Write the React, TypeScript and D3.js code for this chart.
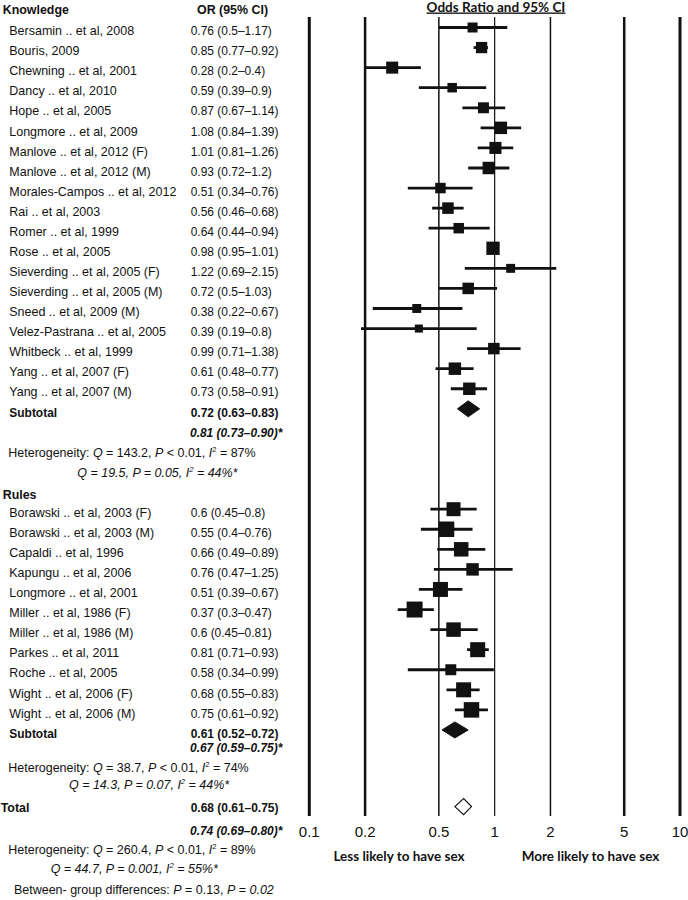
import * as d3 from "d3";
import React from "react";

// ---- data ----
const knowledgeStudies = [
  "Bersamin .. et al, 2008",
  "Bouris, 2009",
  "Chewning .. et al, 2001",
  "Dancy .. et al, 2010",
  "Hope .. et al, 2005",
  "Longmore .. et al, 2009",
  "Manlove .. et al, 2012 (F)",
  "Manlove .. et al, 2012 (M)",
  "Morales-Campos .. et al, 2012",
  "Rai .. et al, 2003",
  "Romer .. et al, 1999",
  "Rose .. et al, 2005",
  "Sieverding .. et al, 2005 (F)",
  "Sieverding .. et al, 2005 (M)",
  "Sneed .. et al, 2009 (M)",
  "Velez-Pastrana .. et al, 2005",
  "Whitbeck .. et al, 1999",
  "Yang .. et al, 2007 (F)",
  "Yang .. et al, 2007 (M)",
];
const knowledgeOR = [0.76, 0.85, 0.28, 0.59, 0.87, 1.08, 1.01, 0.93, 0.51, 0.56, 0.64, 0.98, 1.22, 0.72, 0.38, 0.39, 0.99, 0.61, 0.73];
const knowledgeLow = [0.5, 0.77, 0.2, 0.39, 0.67, 0.84, 0.81, 0.72, 0.34, 0.46, 0.44, 0.95, 0.69, 0.5, 0.22, 0.19, 0.71, 0.48, 0.58];
const knowledgeHigh = [1.17, 0.92, 0.4, 0.9, 1.14, 1.39, 1.26, 1.2, 0.76, 0.68, 0.94, 1.01, 2.15, 1.03, 0.67, 0.8, 1.38, 0.77, 0.91];
const knowledgeWeights = [4.0, 5.1, 5.8, 3.6, 4.8, 6.2, 5.8, 6.2, 4.4, 5.3, 4.4, 7.1, 3.2, 5.3, 3.2, 2.6, 5.3, 6.2, 6.2];

const rulesStudies = [
  "Borawski .. et al, 2003 (F)",
  "Borawski .. et al, 2003 (M)",
  "Capaldi .. et al, 1996",
  "Kapungu .. et al, 2006",
  "Longmore .. et al, 2001",
  "Miller .. et al, 1986 (F)",
  "Miller .. et al, 1986 (M)",
  "Parkes .. et al, 2011",
  "Roche .. et al, 2005",
  "Wight .. et al, 2006 (F)",
  "Wight .. et al, 2006 (M)",
];
const rulesOR = [0.6, 0.55, 0.66, 0.76, 0.51, 0.37, 0.6, 0.81, 0.58, 0.68, 0.75];
const rulesLow = [0.45, 0.4, 0.49, 0.47, 0.39, 0.3, 0.45, 0.71, 0.34, 0.55, 0.61];
const rulesHigh = [0.8, 0.76, 0.89, 1.25, 0.67, 0.47, 0.81, 0.93, 0.99, 0.83, 0.92];
const rulesWeights = [7.8, 9.6, 8.4, 6.2, 9.0, 10.2, 8.4, 9.0, 4.8, 9.0, 9.6];

// pooled estimates: [OR, low, high]
const knowledgeFixed = [0.72, 0.63, 0.83];
const knowledgeRandom = [0.81, 0.73, 0.9];
const rulesFixed = [0.61, 0.52, 0.72];
const rulesRandom = [0.67, 0.59, 0.75];
const totalFixed = [0.68, 0.61, 0.75];
const totalRandom = [0.74, 0.69, 0.8];

// heterogeneity: knowledge, rules, total
const hetQ = ["143.2", "38.7", "260.4"];
const hetP = ["< 0.01", "< 0.01", "< 0.01"];
const hetI2 = ["87%", "74%", "89%"];
const hetQStar = ["19.5", "14.3", "44.7"];
const hetPStar = ["= 0.05", "= 0.07", "= 0.001"];
const hetI2Star = ["44%", "44%", "55%"];
const betweenP = ["0.13", "0.02"];

const ticks = [0.1, 0.2, 0.5, 1, 2, 5, 10];
const tickLabels = ["0.1", "0.2", "0.5", "1", "2", "5", "10"];

// ---- layout ----
const W = 688;
const H = 900;
const x = d3.scaleLog().domain([0.1, 10]).range([309.3, 680]);
const rowY = d3.scaleLinear().domain([0, 1]).range([27.5, 47.57]);
const side = d3.scaleSqrt().domain([0, 1]).range([0, 5]);
const fmt2 = d3.format(".2f");
const TXT = 7.7; // baseline offset of row text below the marker centre
const FONT = "'Liberation Sans', Arial, sans-serif";
const INK = "#111";

const orText = (o: number, l: number, h: number) => `${o} (${l}\u2013${h})`;
const pooledText = (v: number[]) => `${fmt2(v[0])} (${fmt2(v[1])}\u2013${fmt2(v[2])})`;

function T({
  x: tx,
  y,
  bold,
  italic,
  size = 13,
  sx = 0.92,
  children,
}: {
  x: number;
  y: number;
  bold?: boolean;
  italic?: boolean;
  size?: number;
  sx?: number;
  children: React.ReactNode;
}) {
  return (
    <text
      transform={`translate(${tx},${y}) scale(${sx},1)`}
      fontFamily={FONT}
      fontSize={size}
      fontWeight={bold ? "bold" : "normal"}
      fontStyle={italic ? "italic" : "normal"}
      fill={INK}
      style={{ whiteSpace: "pre" }}
    >
      {children}
    </text>
  );
}

function HetLines({ i, y1, y2, x2 }: { i: number; y1: number; y2: number; x2: number }) {
  return (
    <g>
      <T x={8.3} y={y1} sx={0.96}>
        {"Heterogeneity: "}
        <tspan fontStyle="italic">Q</tspan>
        {` = ${hetQ[i]}, `}
        <tspan fontStyle="italic">P</tspan>
        {` ${hetP[i]}, `}
        <tspan fontStyle="italic">I</tspan>
        <tspan fontSize={8} dy={-5}>2</tspan>
        <tspan dy={5}>{` = ${hetI2[i]}`}</tspan>
      </T>
      <T x={x2} y={y2} italic sx={0.96}>
        {`Q = ${hetQStar[i]}, P ${hetPStar[i]}, I`}
        <tspan fontSize={8} dy={-5}>2</tspan>
        <tspan dy={5}>{` = ${hetI2Star[i]}*`}</tspan>
      </T>
    </g>
  );
}

function Study({ row, name, o, l, h, w }: { row: number; name: string; o: number; l: number; h: number; w: number }) {
  const cy = rowY(row);
  const s = side(w);
  return (
    <g>
      <T x={9.3} y={cy + TXT} sx={0.96}>{name}</T>
      <T x={190.7} y={cy + TXT}>{orText(o, l, h)}</T>
      <line x1={x(l)} x2={x(h)} y1={cy} y2={cy} stroke={INK} strokeWidth={2.8} />
      <rect x={x(o) - s / 2} y={cy - s / 2} width={s} height={s} fill={INK} />
    </g>
  );
}

function Diamond({ v, cy, hollow }: { v: number[]; cy: number; hollow?: boolean }) {
  const hh = 8;
  const path = d3.path();
  path.moveTo(x(v[1]), cy);
  path.lineTo(x(v[0]), cy - hh);
  path.lineTo(x(v[2]), cy);
  path.lineTo(x(v[0]), cy + hh);
  path.closePath();
  return (
    <path
      d={path.toString()}
      fill={hollow ? "#fff" : INK}
      stroke={INK}
      strokeWidth={hollow ? 1.2 : 1}
    />
  );
}

export default function App() {
  const tickWidths = [3, 2.5, 1.5, 1.2, 1.5, 2.5, 3];
  const rulesStart = 24;
  const kSub = knowledgeStudies.length; // 19
  const rSub = rulesStart + rulesStudies.length; // 35
  const totalRow = 38.82;
  const labelFont = "Lato, 'Open Sans', sans-serif";

  return (
    <svg
      width={W}
      height={H}
      style={{ position: "absolute", left: 0, top: 0, background: "#fff" }}
    >
      <rect width={W} height={H} fill="#fff" />

      {/* reference lines at each tick */}
      {ticks.map((t, i) => (
        <line key={t} x1={x(t)} x2={x(t)} y1={17} y2={816} stroke={INK} strokeWidth={tickWidths[i]} />
      ))}
      {ticks.map((t, i) => (
        <text key={"l" + t} x={x(t)} y={836.5} textAnchor="middle" fontFamily={FONT} fontSize={15} fill={INK}>
          {tickLabels[i]}
        </text>
      ))}

      {/* title + direction labels */}
      <text x={496} y={11.5} textAnchor="middle" fontFamily={labelFont} fontWeight="bold" fontSize={13.5} fill={INK} textDecoration="underline">
        Odds Ratio and 95% CI
      </text>
      <text x={399} y={860.5} textAnchor="middle" fontFamily={labelFont} fontWeight="bold" fontSize={13.5} fill={INK}>
        Less likely to have sex
      </text>
      <text x={590.5} y={860.5} textAnchor="middle" fontFamily={labelFont} fontWeight="bold" fontSize={13.5} fill={INK}>
        More likely to have sex
      </text>

      {/* knowledge */}
      <T x={2.7} y={13.5} bold size={13.5}>Knowledge</T>
      <T x={197} y={13.5} bold size={13.5}>OR (95% CI)</T>
      {knowledgeStudies.map((n, i) => (
        <Study key={n} row={i} name={n} o={knowledgeOR[i]} l={knowledgeLow[i]} h={knowledgeHigh[i]} w={knowledgeWeights[i]} />
      ))}
      <T x={9.3} y={rowY(kSub) + TXT} bold>Subtotal</T>
      <T x={190.7} y={rowY(kSub) + TXT} bold>{pooledText(knowledgeFixed)}</T>
      <Diamond v={knowledgeFixed} cy={rowY(kSub)} />
      <T x={190} y={rowY(kSub + 1) + TXT} bold italic>{pooledText(knowledgeRandom) + "*"}</T>
      <HetLines i={0} y1={rowY(kSub + 2) + TXT} y2={rowY(kSub + 3) + TXT} x2={77.3} />

      {/* rules */}
      <T x={2.7} y={rowY(rulesStart - 0.9) + TXT} bold size={13.5}>Rules</T>
      {rulesStudies.map((n, i) => (
        <Study key={n} row={rulesStart + i} name={n} o={rulesOR[i]} l={rulesLow[i]} h={rulesHigh[i]} w={rulesWeights[i]} />
      ))}
      <T x={9.3} y={rowY(rSub) + TXT} bold>Subtotal</T>
      <T x={190.7} y={rowY(rSub) + TXT} bold>{pooledText(rulesFixed)}</T>
      <Diamond v={rulesFixed} cy={rowY(rSub)} />
      <T x={190} y={752} bold italic>{pooledText(rulesRandom) + "*"}</T>
      <HetLines i={1} y1={772.3} y2={789.3} x2={69} />

      {/* total */}
      <T x={0.7} y={811.5} bold size={13.5}>Total</T>
      <T x={190.7} y={811.5} bold>{pooledText(totalFixed)}</T>
      <Diamond v={totalFixed} cy={rowY(totalRow)} hollow />
      <T x={190} y={834.7} bold italic>{pooledText(totalRandom) + "*"}</T>
      <HetLines i={2} y1={854} y2={873} x2={50.7} />
      <T x={14} y={894} sx={0.96}>
        {"Between- group differences: "}
        <tspan fontStyle="italic">P</tspan>
        {` = ${betweenP[0]}, `}
        <tspan fontStyle="italic">P</tspan>
        {" = "}
        <tspan fontStyle="italic">{betweenP[1]}</tspan>
      </T>
    </svg>
  );
}
